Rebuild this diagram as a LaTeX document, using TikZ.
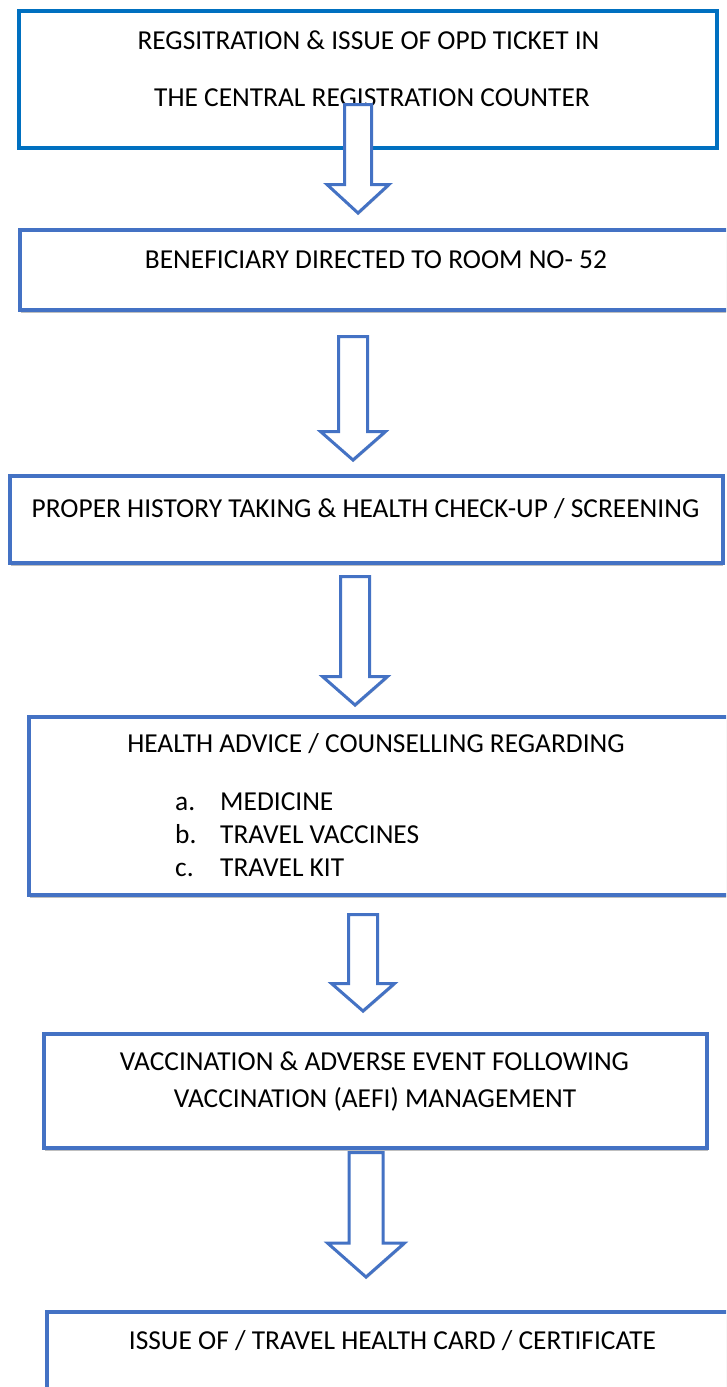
\documentclass[tikz,border=0pt]{standalone}
\usepackage{fontspec}
\setmainfont{Carlito}
\usetikzlibrary{shadows}
\definecolor{boxblue}{HTML}{4472C4}
\definecolor{topblue}{HTML}{0070C0}
\tikzset{
  flowbox/.style={draw=boxblue, line width=4pt, fill=white, rectangle, inner sep=0pt, anchor=north west,
    drop shadow={shadow xshift=0.5pt, shadow yshift=-2.5pt, opacity=0.25, fill=black}},
  topbox/.style={draw=topblue, line width=4pt, fill=white, rectangle, inner sep=0pt, anchor=north west},
  blockarr/.style={draw=boxblue, line width=3pt, fill=white, line join=miter,
    drop shadow={shadow xshift=0.5pt, shadow yshift=-2pt, opacity=0.2, fill=black}},
  lbl/.style={inner sep=0pt, anchor=base, font=\fontsize{27.4}{33}\selectfont},
  lblw/.style={inner sep=0pt, anchor=base west, font=\fontsize{27.4}{33}\selectfont}
}
\newcommand\blockarrow[7]{% name, cx, top, shaft half, head half, head base, tip
  \draw[blockarr] ({#2-#4},#3) -- ({#2+#4},#3) -- ({#2+#4},#6) -- ({#2+#5},#6)
    -- (#2,#7) coordinate (#1tip) -- ({#2-#5},#6) -- ({#2-#4},#6) -- cycle;}
\begin{document}
\begin{tikzpicture}[x=1pt,y=-1pt]
\useasboundingbox (0,0) rectangle (726,1387);
\clip (0,0) rectangle (726,1387);
\fill[white] (0,0) rectangle (726,1387);

% Box 1
\node[topbox, minimum width=698pt, minimum height=137pt] (b1) at (17,9) {};
\node[lbl] (t1a) at (368.5,49) {REGSITRATION \& ISSUE OF OPD TICKET IN};
\node[lbl] (t1b) at (372,106.5) {THE CENTRAL REGISTRATION COUNTER};
\blockarrow{a1}{358}{104.5}{13.5}{31}{184.5}{213}

% Box 2
\node[flowbox, minimum width=750pt, minimum height=80pt] (b2) at (18,228) {};
\node[lbl] (t2) at (376,268) {BENEFICIARY DIRECTED TO ROOM NO- 52};
\blockarrow{a2}{353}{336.5}{14.5}{32.5}{431.5}{460}

% Box 3
\node[flowbox, minimum width=712.5pt, minimum height=87pt] (b3) at (8,474) {};
\node[lbl] (t3) at (365.5,517) {PROPER HISTORY TAKING \& HEALTH CHECK-UP / SCREENING};
\blockarrow{a3}{355}{576.5}{14.5}{32.5}{676.5}{705}

% Box 4
\node[flowbox, minimum width=750pt, minimum height=178pt] (b4) at (27,715) {};
\node[lbl] (t4) at (376,752.5) {HEALTH ADVICE / COUNSELLING REGARDING};
\node[lblw] (t4a) at (175,810) {a.};
\node[lblw] (t4ai) at (220,810) {MEDICINE};
\node[lblw] (t4b) at (175,843) {b.};
\node[lblw] (t4bi) at (220,843) {TRAVEL VACCINES};
\node[lblw] (t4c) at (175,876.5) {c.};
\node[lblw] (t4ci) at (220,876.5) {TRAVEL KIT};
\blockarrow{a4}{363}{914.5}{14.5}{31.5}{983.5}{1011}

% Box 5
\node[flowbox, minimum width=663pt, minimum height=114pt] (b5) at (42,1032) {};
\node[lbl] (t5a) at (374.5,1070) {VACCINATION \& ADVERSE EVENT FOLLOWING};
\node[lbl] (t5b) at (375,1107) {VACCINATION (AEFI) MANAGEMENT};
\blockarrow{a5}{366}{1152.5}{17}{38.5}{1243}{1277}

% Box 6
\node[flowbox, minimum width=750pt, minimum height=150pt] (b6) at (45,1310) {};
\node[lbl] (t6) at (392.5,1349) {ISSUE OF / TRAVEL HEALTH CARD / CERTIFICATE};
\end{tikzpicture}
\end{document}
